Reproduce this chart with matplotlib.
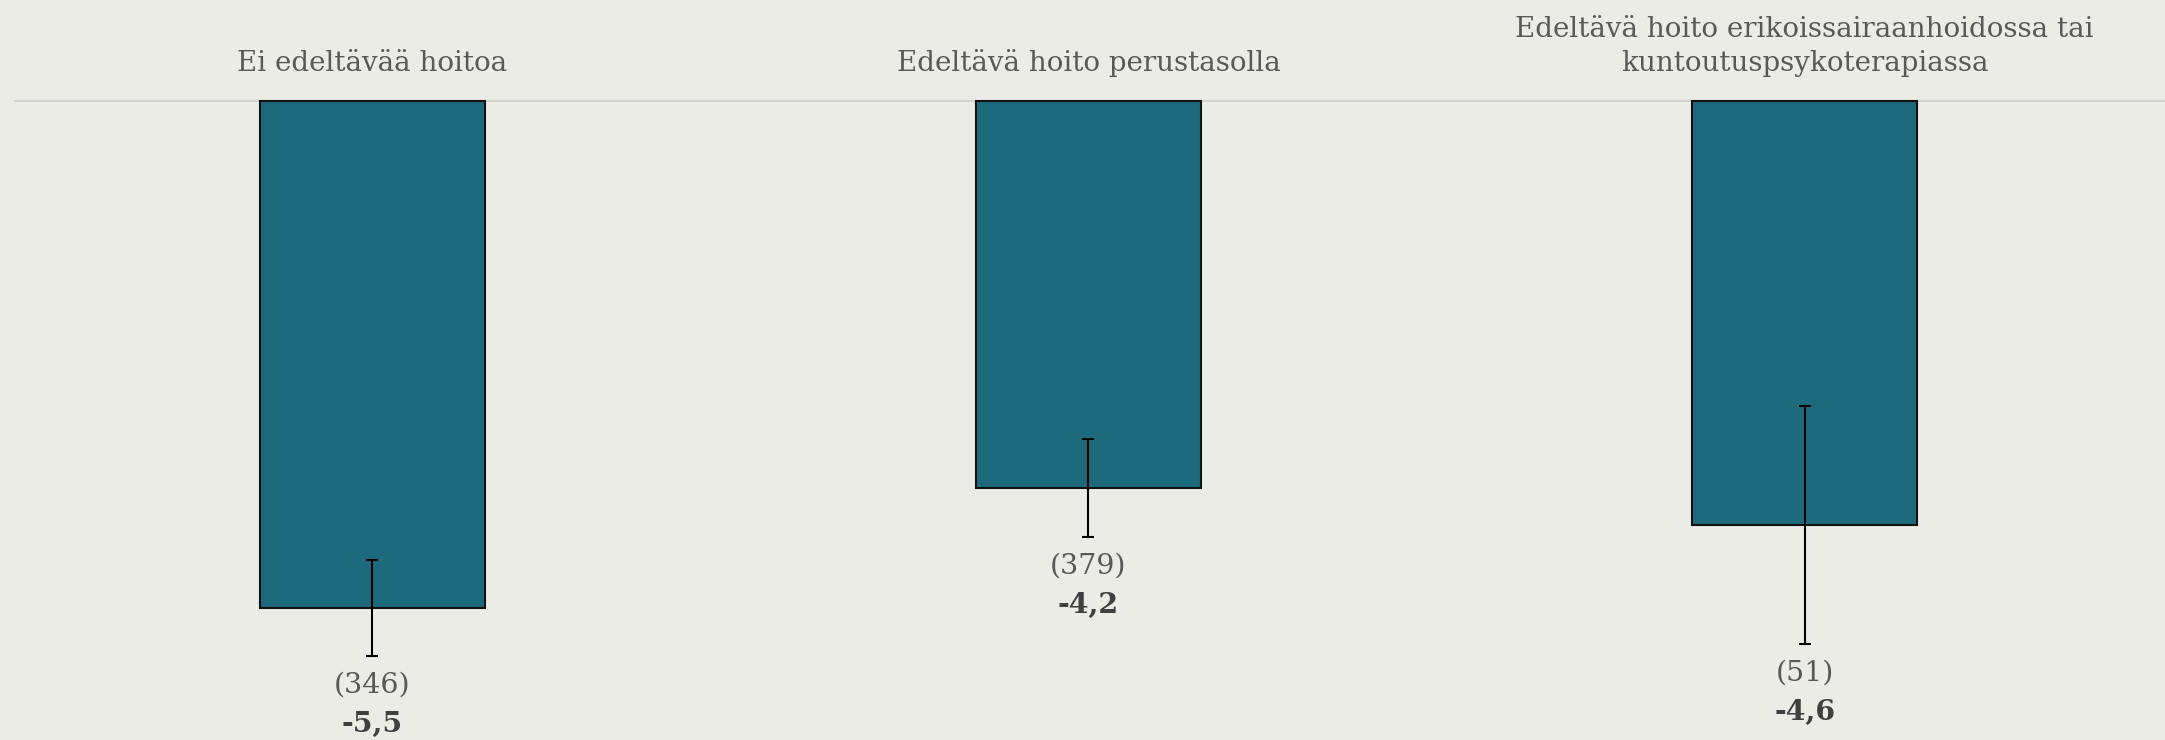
import numpy as np
import matplotlib
matplotlib.use("Agg")
import matplotlib.pyplot as plt

# data
categories = ["Ei edeltävää hoitoa",
              "Edeltävä hoito perustasolla",
              "Edeltävä hoito erikoissairaanhoidossa tai\nkuntoutuspsykoterapiassa"]
means = [-5.5, -4.2, -4.6]
errors = [0.52, 0.53, 1.29]
counts = [346, 379, 51]
value_labels = ["-5,5", "-4,2", "-4,6"]

bg = "#ECECE7"
bar_color = "#1D6A7D"
text_gray = "#595959"
value_gray = "#404040"

plt.rcParams['font.family'] = ['DejaVu Serif']

fig = plt.figure(figsize=(21.65, 7.4), dpi=100, facecolor=bg)
ax = fig.add_axes([14 / 2165, 0, 1 - 14 / 2165, 1])
ax.set_facecolor(bg)

x = np.arange(len(categories))
px = 92.2  # pixels per unit, used for label offsets

ax.axhline(0, color="#D3D3D0", lw=1.5, zorder=1)
ax.bar(x, means, width=0.314, color=bar_color, edgecolor="#111111",
       linewidth=1.5, zorder=2)
ax.errorbar(x, means, yerr=errors, fmt="none", ecolor="black",
            elinewidth=1.5, capsize=4.5, capthick=1.5, zorder=3)

for i in range(len(categories)):
    low = means[i] - errors[i]
    ax.text(x[i], low - 29 / px, "(%d)" % counts[i], ha="center", va="center",
            fontsize=20.5, color=text_gray)
    ax.text(x[i], low - 68 / px, value_labels[i], ha="center", va="center",
            fontsize=20.5, color=value_gray, fontweight="bold")
    ax.text(x[i], 24 / px, categories[i], ha="center", va="bottom",
            fontsize=20, color=text_gray, linespacing=1.35)

ax.set_xlim(-0.5, 2.503)
ax.set_ylim(-639 / px, 101 / px)
ax.axis("off")

fig.savefig("out.png", dpi=100, facecolor=bg)
